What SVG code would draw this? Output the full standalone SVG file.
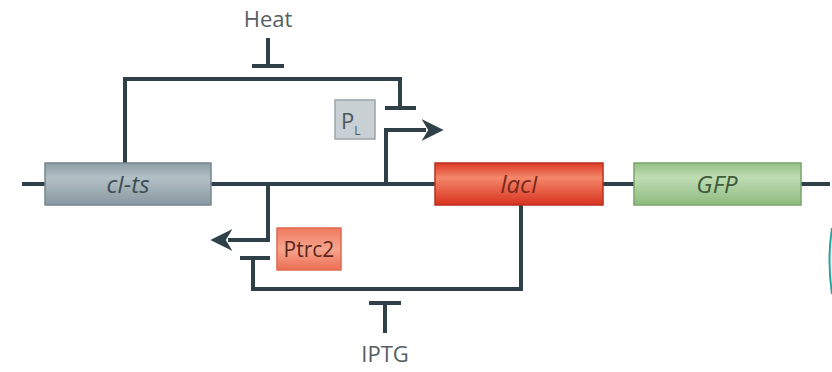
<svg xmlns="http://www.w3.org/2000/svg" width="832" height="372" viewBox="0 0 832 372">
<defs>
<linearGradient id="gGray" x1="0" y1="0" x2="0" y2="1">
<stop offset="0" stop-color="#8e9ea6"/><stop offset="0.35" stop-color="#b3c0c6"/><stop offset="1" stop-color="#8898a0"/>
</linearGradient>
<linearGradient id="gRed" x1="0" y1="0" x2="0" y2="1">
<stop offset="0" stop-color="#dc3a26"/><stop offset="0.35" stop-color="#f4876a"/><stop offset="1" stop-color="#d9321e"/>
</linearGradient>
<linearGradient id="gGreen" x1="0" y1="0" x2="0" y2="1">
<stop offset="0" stop-color="#93c184"/><stop offset="0.35" stop-color="#bfdcb3"/><stop offset="1" stop-color="#8dbb7e"/>
</linearGradient>
<linearGradient id="gPtrc" x1="0" y1="0" x2="0" y2="1">
<stop offset="0" stop-color="#ef7a5e"/><stop offset="0.5" stop-color="#f6a58e"/><stop offset="1" stop-color="#ec6e52"/>
</linearGradient>
<marker id="arr" viewBox="0 0 10 10" refX="2" refY="5" markerWidth="5.5" markerHeight="5.5" orient="auto" markerUnits="strokeWidth">
<path d="M0,0 L10,5 L0,10 L3,5 Z" fill="#2f4048"/>
</marker>
<style>
.ln{fill:none;stroke:#2f4048;stroke-width:4;stroke-linecap:butt;stroke-linejoin:miter}
.lbl{font-family:"Open Sans","Liberation Sans",sans-serif;font-size:22px;fill:#555e63}
.gene{font-family:"Open Sans","Liberation Sans",sans-serif;font-size:24px;font-style:italic;text-anchor:middle}
</style>
</defs>
<rect width="832" height="372" fill="#ffffff"/>
<g id="connectors">
<path class="ln" d="M22,184 H830"/>
<path class="ln" d="M125,163 V79 H400 V108"/>
<path class="ln" d="M385,108 H416"/>
<path class="ln" d="M268,38 V66 M252,66 H284"/>
<path class="ln" d="M386,184 V130 H426" marker-end="url(#arr)"/>
<path class="ln" d="M268,184 V240 H228" marker-end="url(#arr)"/>
<path class="ln" d="M240,258 H270 M253,258 V289 H521 V205"/>
<path class="ln" d="M369,303 H401 M385,303 V333"/>
</g>
<g id="cI-ts">
<rect x="45" y="163" width="166" height="42" fill="url(#gGray)" stroke="#75868e" stroke-width="1.5"/>
<text class="gene" x="128" y="193" fill="#3d4d55">cI-ts</text>
</g>
<g id="lacI">
<rect x="435" y="163" width="168" height="42" fill="url(#gRed)" stroke="#b8301f" stroke-width="1.5"/>
<text class="gene" x="519" y="193" fill="#7a2a1c">lacI</text>
</g>
<g id="GFP">
<rect x="634" y="163" width="167" height="42" fill="url(#gGreen)" stroke="#7aa46c" stroke-width="1.5"/>
<text class="gene" x="717" y="193" fill="#3e5a3a">GFP</text>
</g>
<g id="PL">
<rect x="335" y="100" width="40" height="39" fill="#c9d0d3" stroke="#9aa4a9" stroke-width="1.5"/>
<text x="341" y="129" font-family="'Open Sans','Liberation Sans',sans-serif" font-size="22" fill="#4d575c">P<tspan font-size="12" dy="6">L</tspan></text>
</g>
<g id="Ptrc2">
<rect x="277" y="228" width="64" height="42" fill="url(#gPtrc)" stroke="#e06a50" stroke-width="1.5"/>
<text x="309" y="257" text-anchor="middle" font-family="'Open Sans','Liberation Sans',sans-serif" font-size="21" fill="#5e261b">Ptrc2</text>
</g>
<g id="Heat">
<text class="lbl" x="268" y="27" text-anchor="middle">Heat</text>
</g>
<g id="IPTG">
<text class="lbl" x="385" y="362" text-anchor="middle">IPTG</text>
</g>
<path d="M832,228 Q827,260 832,294" fill="none" stroke="#2aa39a" stroke-width="2"/>
</svg>
